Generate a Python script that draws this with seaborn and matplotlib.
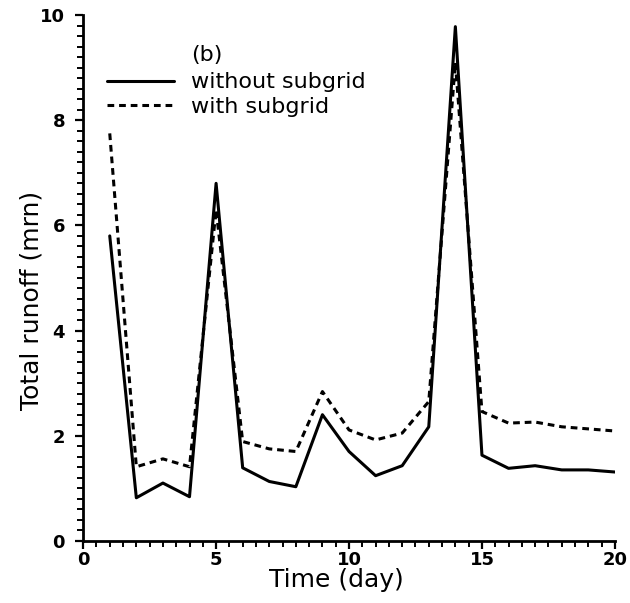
import numpy as np
import pandas as pd
import matplotlib
matplotlib.use("Agg")
import matplotlib.pyplot as plt
from matplotlib.ticker import MultipleLocator
import seaborn as sns

days = list(range(1, 21))
without_subgrid = [5.8, 0.82, 1.1, 0.84, 6.8, 1.39, 1.13, 1.03, 2.4, 1.7,
                   1.24, 1.43, 2.17, 9.78, 1.63, 1.38, 1.43, 1.35, 1.35, 1.31]
with_subgrid = [7.75, 1.41, 1.56, 1.41, 6.3, 1.89, 1.75, 1.70, 2.84, 2.11,
                1.92, 2.05, 2.65, 9.1, 2.46, 2.24, 2.26, 2.17, 2.13, 2.09]
series_names = ["without subgrid", "with subgrid"]

df = pd.DataFrame({
    "day": days * 2,
    "runoff": without_subgrid + with_subgrid,
    "case": [series_names[0]] * len(days) + [series_names[1]] * len(days),
})

sns.set_theme(style="ticks")
plt.rcParams["font.family"] = ["DejaVu Sans"]
plt.rcParams["text.color"] = "black"
plt.rcParams["axes.labelcolor"] = "black"

fig = plt.figure(figsize=(6.3, 6.03), dpi=100)
ax = fig.add_axes([0.132, 0.103, 0.844, 0.872])

sns.lineplot(data=df, x="day", y="runoff", style="case",
             dashes={series_names[0]: "", series_names[1]: (2.2, 1.6)},
             color="black", linewidth=2.2, ax=ax)

ax.set_xlim(0, 20)
ax.set_ylim(0, 10)
ax.xaxis.set_major_locator(MultipleLocator(5))
ax.xaxis.set_minor_locator(MultipleLocator(0.5))
ax.yaxis.set_major_locator(MultipleLocator(2))
ax.yaxis.set_minor_locator(MultipleLocator(0.2))
ax.tick_params(which="major", length=6, width=1.6, direction="out",
               labelsize=13, colors="black")
ax.tick_params(which="minor", length=4, width=1.4, direction="out",
               colors="black")
ax.tick_params(axis="x", which="major", pad=1)
ax.tick_params(axis="y", which="major", pad=7)
for lab in ax.get_xticklabels() + ax.get_yticklabels():
    lab.set_fontweight("bold")
for side in ("top", "right"):
    ax.spines[side].set_visible(False)
for side in ("left", "bottom"):
    ax.spines[side].set_linewidth(2)
    ax.spines[side].set_color("black")

ax.set_xlabel("Time (day)", fontsize=18)
ax.set_ylabel("Total runoff (mrn)", fontsize=18)
ax.xaxis.set_label_coords(0.477, -0.052)
ax.yaxis.set_label_coords(-0.075, 0.458)

leg = ax.legend(loc="upper left", bbox_to_anchor=(0.028, 0.908),
                frameon=False, fontsize=16,
                handlelength=3.0, handletextpad=0.8, labelspacing=0.2,
                borderaxespad=0)
for t in leg.get_texts():
    t.set_color("black")

# panel tag sits above the legend labels
fig.canvas.draw()
lab_box = leg.get_texts()[0].get_window_extent()
x_tag = ax.transAxes.inverted().transform((lab_box.x0, 0))[0]
ax.text(x_tag, 0.924, "(b)", transform=ax.transAxes, fontsize=16,
        ha="left", va="center", color="black")

fig.savefig("out.png", dpi=100, facecolor="white")
